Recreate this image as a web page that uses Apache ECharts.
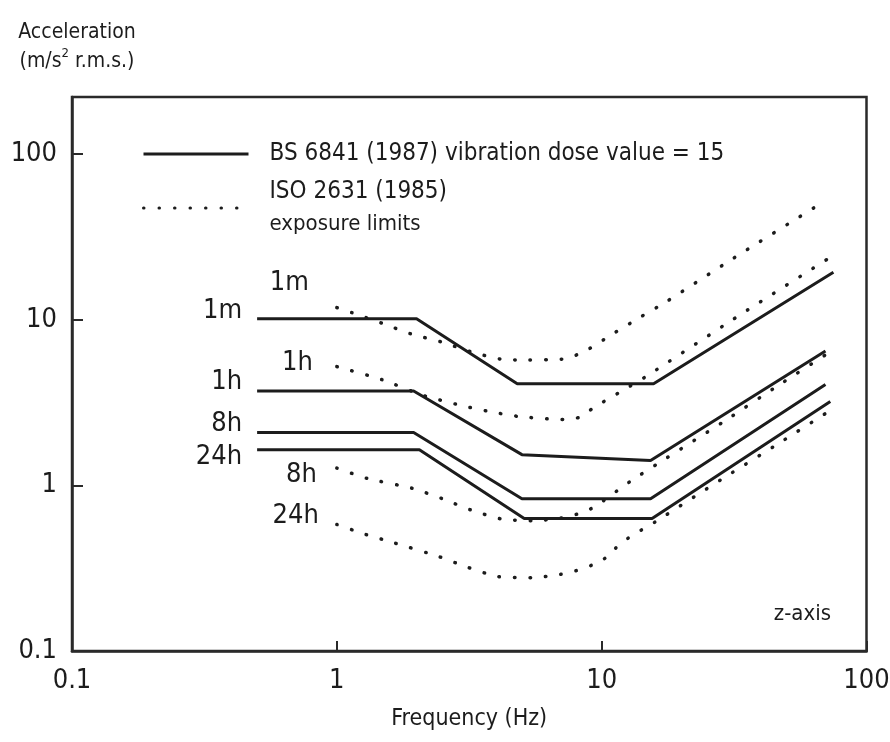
<!DOCTYPE html>
<html>
<head>
<meta charset="utf-8">
<title>Vibration limits</title>
<script src="https://cdn.jsdelivr.net/npm/echarts@6/dist/echarts.min.js"></script>
<style>
  html, body { margin: 0; padding: 0; background: #fff; }
  #chart { width: 890px; height: 742px; }
</style>
</head>
<body>
<div id="chart"></div>
<script>
// frequency (Hz) on x, acceleration (m/s2 r.m.s.) on y, both log
var xTickLabels = ["0.1", "1", "10", "100"];
var yTickLabels = ["0.1", "1", "10", "100"];
var curveNames = ["1m", "1h", "8h", "24h"];

// BS 6841 (1987) vibration dose value = 15
var bs1m = [[0.5, 10.1], [2, 10.1], [4.8, 4.1], [15.7, 4.1], [75, 19.3]];
var bs1h = [[0.5, 3.7], [1.95, 3.7], [5, 1.53], [15.3, 1.41], [70, 6.45]];
var bs8h = [[0.5, 2.08], [1.95, 2.08], [5, 0.83], [15.3, 0.83], [70, 4.05]];
var bs24h = [[0.5, 1.64], [2.05, 1.64], [5.1, 0.63], [15.5, 0.63], [73, 3.2]];

// ISO 2631 (1985) exposure limits
var iso1m = [[1, 11.8], [1.14, 11], [1.48, 9.5], [1.9, 8.2], [2.5, 7.3], [3.2, 6.4], [4.2, 5.75],
  [5.3, 5.7], [6.4, 5.73], [7.3, 5.8], [8.6, 6.4], [10.9, 8.1], [13.8, 10.2], [17.4, 12.7],
  [30.5, 22.7], [68, 50.7]];
var iso1h = [[1, 5.2], [1.48, 4.34], [2.1, 3.5], [2.9, 3.05], [3.7, 2.8], [4.85, 2.6], [6.4, 2.51],
  [7.3, 2.49], [8.3, 2.58], [9.3, 2.93], [11.7, 3.64], [14.9, 4.59], [32.8, 10.5], [72, 23.4]];
var iso8h = [[1, 1.27], [1.3, 1.1], [1.92, 0.96], [2.5, 0.83], [3.2, 0.71], [4.2, 0.625], [5.5, 0.61],
  [7.3, 0.64], [8.3, 0.68], [9.4, 0.74], [11.7, 0.95], [13.1, 1.08], [16.4, 1.36], [29, 2.43],
  [45, 3.87], [72, 6.3]];
var iso24h = [[1, 0.58], [1.26, 0.51], [1.64, 0.45], [2.42, 0.372], [3.12, 0.32], [4.06, 0.281],
  [5.5, 0.277], [7, 0.29], [8, 0.305], [9.2, 0.33], [10.3, 0.363], [11.3, 0.418], [12.6, 0.48],
  [14.2, 0.54], [15.9, 0.6], [28.2, 1.08], [44.6, 1.71], [70.3, 2.72]];

var BS_NAME = "BS 6841 (1987) vibration dose value = 15";
var ISO_NAME = "ISO 2631 (1985) exposure limits";

var FONT = "'DejaVu Sans Condensed', 'Liberation Sans Narrow', 'DejaVu Sans', sans-serif";
var INK = "#1c1c1c";

// where the curve names sit next to the first point of each curve
var bsLabelPos = [{ dist: 15, dy: -8 }, { dist: 15, dy: -9 }, { dist: 15, dy: -9 }, { dist: 15, dy: 7 }];
var isoLabelPos = [{ dist: 28, dy: -25 }, { dist: 24, dy: -4 }, { dist: 20, dy: 7 }, { dist: 18, dy: -8 }];

function curveLabel(data, text, pos) {
  return {
    silent: true,
    symbol: "circle",
    symbolSize: 0,
    data: [{ coord: data[0] }],
    label: {
      show: true,
      position: "left",
      distance: pos.dist,
      offset: [0, pos.dy],
      formatter: text,
      fontSize: 27,
      fontFamily: FONT,
      color: INK
    }
  };
}

function bsSeries(data, i) {
  return {
    type: "line",
    name: BS_NAME,
    data: data,
    symbol: "none",
    lineStyle: { color: INK, width: 3 },
    itemStyle: { color: INK },
    markPoint: curveLabel(data, curveNames[i], bsLabelPos[i])
  };
}

function isoSeries(data, i) {
  return {
    type: "line",
    name: ISO_NAME,
    data: data,
    symbol: "none",
    smooth: 0.2,
    lineStyle: { color: INK, width: 3.5, type: [0.5, 15], cap: "round" },
    itemStyle: { color: INK },
    markPoint: curveLabel(data, curveNames[i], isoLabelPos[i])
  };
}

var series = [
  bsSeries(bs1m, 0), bsSeries(bs1h, 1), bsSeries(bs8h, 2), bsSeries(bs24h, 3),
  isoSeries(iso1m, 0), isoSeries(iso1h, 1), isoSeries(iso8h, 2), isoSeries(iso24h, 3)
];

var myChart = echarts.init(document.getElementById("chart"));
var option = {
  animation: false,
  backgroundColor: "#ffffff",
  grid: {
    left: 72, right: 23.5, top: 97, bottom: 91,
    show: true,
    borderColor: "#2a2a2a",
    borderWidth: 2.5,
    containLabel: false,
    outerBoundsMode: "none"
  },
  legend: {
    orient: "vertical",
    left: 137,
    top: 137,
    itemWidth: 105,
    itemHeight: 14,
    itemGap: 14,
    selectedMode: false,
    data: [BS_NAME, ISO_NAME],
    itemStyle: { opacity: 0 },
    lineStyle: { width: 3 },
    formatter: function (name) {
      if (name === BS_NAME) return "{bs|" + name + "}";
      return "{iso|ISO 2631 (1985)}\n{exp|exposure limits}";
    },
    textStyle: {
      color: INK,
      fontFamily: FONT,
      padding: [0, 0, 0, 16],
      rich: {
        bs: { fontSize: 24, lineHeight: 30, fontFamily: FONT, color: INK },
        iso: { fontSize: 24, lineHeight: 32, fontFamily: FONT, color: INK },
        exp: { fontSize: 22, lineHeight: 32, fontFamily: FONT, color: INK }
      }
    }
  },
  xAxis: {
    type: "log",
    logBase: 10,
    min: 0.1,
    max: 100,
    name: "Frequency (Hz)",
    nameLocation: "middle",
    nameGap: 57,
    nameTextStyle: { fontSize: 23, fontFamily: FONT, color: INK },
    axisLine: { show: true, lineStyle: { color: "#2a2a2a", width: 2.5 } },
    axisTick: { show: true, inside: true, length: 10, lineStyle: { color: "#2a2a2a", width: 2 } },
    axisLabel: {
      margin: 16,
      fontSize: 27,
      fontFamily: FONT,
      color: INK,
      formatter: function (v, i) { return xTickLabels[i] || ""; }
    },
    splitLine: { show: false },
    minorTick: { show: false }
  },
  yAxis: {
    type: "log",
    logBase: 10,
    min: 0.1,
    max: 220,
    name: "{a|Acceleration}\n{a|(m/s}{sup|2}{a| r.m.s.)}",
    nameLocation: "end",
    nameGap: 21,
    nameTextStyle: {
      align: "center",
      verticalAlign: "bottom",
      padding: [0, 0, 0, 10],
      rich: {
        a: { fontSize: 21, lineHeight: 29, fontFamily: FONT, color: INK },
        sup: { fontSize: 13, lineHeight: 16, verticalAlign: "top", fontFamily: FONT, color: INK }
      }
    },
    axisLine: { show: true, lineStyle: { color: "#2a2a2a", width: 2.5 } },
    axisTick: { show: true, inside: true, length: 11, lineStyle: { color: "#2a2a2a", width: 2 } },
    axisLabel: {
      margin: 15,
      fontSize: 27,
      fontFamily: FONT,
      color: INK,
      showMaxLabel: false,
      formatter: function (v, i) { return yTickLabels[i] || ""; }
    },
    splitLine: { show: false },
    minorTick: { show: false }
  },
  graphic: [{
    type: "text",
    right: 59,
    top: 603,
    style: { text: "z-axis", fontSize: 22, fontFamily: FONT, fill: INK }
  }],
  series: series
};
myChart.setOption(option);
window.onresize = function () {
  myChart.resize();
};
</script>
</body>
</html>
